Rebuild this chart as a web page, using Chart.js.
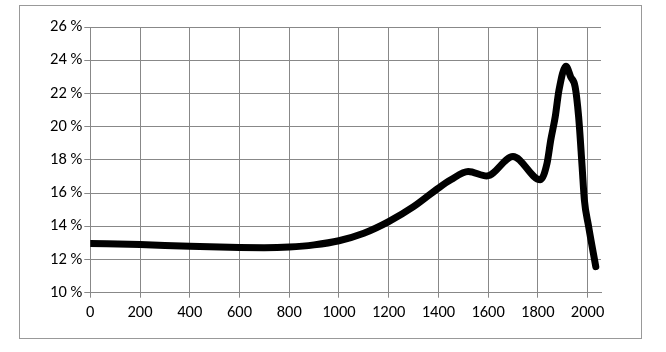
<!DOCTYPE html>
<html>
<head>
<meta charset="utf-8">
<script src="https://cdn.jsdelivr.net/npm/chart.js@4/dist/chart.umd.min.js"></script>
<style>
  html, body { margin: 0; padding: 0; background: #fff; }
  #wrap { position: relative; width: 666px; height: 352px; }
  #frame { position: absolute; left: 19px; top: 5px; width: 621px; height: 332px; border: 1px solid #999; }
  #chart { position: absolute; left: 0; top: 0; }
</style>
</head>
<body>
<div id="wrap">
  <div id="frame"></div>
  <canvas id="chart" width="666" height="352"></canvas>
</div>
<script>
	// values
	const xVals = [0, 200, 400, 600, 700, 800, 900, 1000, 1100, 1200, 1300, 1400, 1450, 1520, 1595, 1700, 1810, 1837, 1852, 1870, 1885, 1913, 1932, 1950, 1964, 1978, 1987, 2004, 2033];
	const yVals = [12.97, 12.9, 12.79, 12.72, 12.71, 12.75, 12.88, 13.13, 13.58, 14.28, 15.18, 16.3, 16.8, 17.3, 17.03, 18.2, 16.8, 17.8, 19.2, 20.6, 22.2, 23.64, 23.0, 22.4, 20.6, 17.6, 15.6, 14.0, 11.57];
	const yTicks = [10, 12, 14, 16, 18, 20, 22, 24, 26];
	const xTicks = [0, 200, 400, 600, 800, 1000, 1200, 1400, 1600, 1800, 2000];

	const points = xVals.map((x, i) => ({ x: x, y: yVals[i] }));
	const gridCol = '#888';
	const fontDef = { family: 'Carlito, Lato, sans-serif', size: 16.5 };

	const ctx = document.getElementById('chart').getContext('2d');
	const chart = new Chart(ctx, {
		type: 'line',
		data: {
			datasets: [{
				data: points,
				borderColor: '#000',
				borderWidth: 7,
				borderCapStyle: 'round',
				borderJoinStyle: 'round',
				cubicInterpolationMode: 'monotone',
				fill: false,
				pointRadius: 0,
				pointHoverRadius: 0
			}]
		},
		options: {
			responsive: false,
			animation: false,
			layout: { padding: { left: 0, top: 27, right: 65, bottom: 0 } },
			plugins: { legend: { display: false }, tooltip: { enabled: false } },
			scales: {
				x: {
					type: 'linear',
					min: 0,
					max: 2054,
					afterBuildTicks: (s) => { s.ticks = xTicks.map(v => ({ value: v })); },
					afterFit: (s) => { s.height = 59.3; },
					grid: { color: gridCol, tickLength: 5, tickColor: gridCol },
					border: { color: gridCol },
					ticks: { color: '#000', font: fontDef, padding: 5, maxRotation: 0, autoSkip: false, callback: v => String(v) }
				},
				y: {
					min: 10,
					max: 26,
					afterBuildTicks: (s) => { s.ticks = yTicks.map(v => ({ value: v })); },
					afterFit: (s) => { s.width = 90.3; },
					grid: { color: gridCol, tickLength: 6, tickColor: gridCol },
					border: { color: gridCol },
					ticks: { color: '#000', font: fontDef, padding: 2, callback: v => v + ' %' }
				}
			}
		}
	});
</script>
</body>
</html>
